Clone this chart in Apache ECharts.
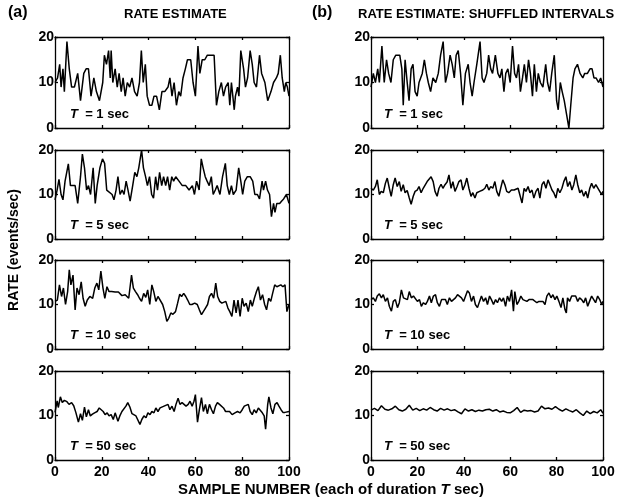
<!DOCTYPE html>
<html>
<head>
<meta charset="utf-8">
<script src="https://cdn.jsdelivr.net/npm/echarts@6/dist/echarts.min.js"></script>
<style>
  html, body { margin: 0; background: #fff; }
  #chart { width: 624px; height: 498px; }
</style>
</head>
<body>
<div id="chart"></div>
<script>
// (a) rate estimate, [sample number, events/sec]
const rateT1 = [[0,10],[1.1,11],[2,14],[2.6,9],[3.4,13],[4,8],[5.1,19],[6.1,13],[7.1,9],[8.3,9],[9.7,12],[10.9,6],[12.3,12],[13.3,13],[14.3,13],[15.4,7],[16.6,11],[17.7,8],[19,6],[20.4,10],[21.1,16],[22,14],[22.9,17],[23.6,11],[24,17],[24.7,10],[25.7,13],[26.6,9],[27.4,12],[28.3,8],[29.1,11],[30,7],[30.9,10],[31.9,9],[32.9,11],[34,8],[35.1,7],[36.1,10],[36.9,17],[37.7,10],[38.6,14],[39.4,7],[40.4,5],[41.4,5],[42.3,7],[43.4,7],[44.6,4],[45.7,8],[46.9,8],[48.3,9],[49.1,11],[50,7],[50.9,10],[51.9,5],[52.9,8],[53.7,7],[54.7,11],[55.7,13],[56.6,15],[58,15],[59,10],[60,7],[61.1,18],[61.9,12],[62.9,15],[64,15],[65.1,16],[66.9,16],[68,16],[69,5],[70,8],[71.1,10],[72,7],[72.9,9],[74,10],[74.7,5],[75.4,10],[76.6,4],[77.1,7],[78,9],[78.6,7],[79.4,17],[80.6,13],[81.4,9],[82.3,11],[83.4,17],[84.3,14],[85.1,10],[86.1,9],[87.4,16],[88.3,12],[89.7,10],[90.9,6],[92.3,8],[93.4,10],[94.6,11],[95.4,12],[96.3,16],[97.1,11],[98,8],[98.6,10],[99.3,9],[100,7]];
const rateT5 = [[0,8.8],[0.9,11],[1.7,13.4],[2.6,10],[3.4,8.8],[4.3,13],[5.7,16.9],[6.6,12],[7.4,12],[8.6,12],[9.7,8],[10.9,14],[11.7,19.1],[12.6,16],[13.5,11],[14.3,12],[15.2,10],[16.3,16],[17.2,8],[18,12],[19.2,16],[20.3,18],[21.2,17],[22.1,11],[22.9,11],[24.4,10],[25.2,8.8],[26.1,11],[26.9,14],[27.8,10],[28.7,11],[29.5,10],[30.4,13],[31.2,11],[32.1,8.5],[33.2,12],[34.1,15],[35,14],[35.8,16],[37,20],[37.8,16],[38.7,14],[39.5,12],[40.4,14],[41.3,10],[42.1,9.2],[43,14],[43.8,11],[44.7,15],[45.6,12],[46.4,14],[47.3,12],[48.1,14],[49,11],[49.9,14],[50.7,13],[51.6,14],[53,13],[54.4,12],[55.9,12],[57.3,11],[58.7,12],[59.6,10],[60.5,13],[61.6,11],[62.5,18],[63.3,16],[64.2,14],[65,13],[65.9,12],[66.8,14],[67.6,10],[68.5,11],[69.3,12],[70.5,10],[71.6,14],[72.8,17],[73.6,12],[74.5,10],[75.4,12],[76.2,10],[77.4,11],[78.5,16],[79.4,13],[80.2,10],[81.1,13],[82.2,14],[83.4,14],[84.5,13],[85.4,10],[86.5,10],[87.4,9],[88.5,13],[89.1,11],[90,13],[90.8,11],[91.7,10],[92.5,5],[93.4,8],[94,6],[94.8,8],[96,8],[96.8,8.5],[97.7,9],[98.9,10],[100,8]];
const rateT10 = [[0,10.7],[1,11],[1.9,14.4],[2.8,11.8],[3.6,13.7],[4.5,10],[5.4,12.9],[6.1,17.8],[6.8,14.4],[7.7,16.6],[8.6,8.8],[9.4,13.7],[10.3,12.2],[11.2,15.1],[12,11.4],[12.9,9.6],[13.8,11],[14.9,11.8],[16.1,11.4],[17,13.7],[17.9,14.8],[18.7,13.3],[19.6,17.5],[20.5,13.7],[21.3,11.4],[22.2,14],[23.1,12.9],[24.2,12.9],[25.7,12.8],[27.1,12.8],[28.6,12],[30,12.2],[31.5,11.4],[32.7,16.6],[33.5,13.7],[34.4,12.9],[35.3,12.2],[36.1,11.4],[37,10.7],[37.9,12.5],[38.8,11.6],[39.6,13.3],[40.5,10],[41.4,14.4],[42.2,12.9],[43.1,10.7],[44,11.8],[44.8,11.4],[46,10],[46.9,8.4],[47.8,6.2],[48.6,6.9],[49.5,8.1],[50.4,7.8],[51.5,8.4],[52.4,10.3],[53.3,12.3],[54.1,11.8],[55,12.5],[55.9,11.8],[56.7,11],[57.6,10],[58.5,10],[59.7,10.3],[60.8,10],[61.7,8.8],[62.6,7.7],[63.4,8.1],[64.3,9.2],[65.2,10],[66,11.8],[66.9,12.5],[67.8,11.4],[68.7,14.8],[69.5,11.8],[70.4,10.7],[71.3,10.3],[72.1,10],[73,10.7],[73.9,9.2],[74.7,8.4],[75.6,7.3],[76.5,11],[77.4,8.1],[78.2,11],[79.1,7.3],[80,11.4],[80.8,9.6],[81.7,10.3],[82.6,8.4],[83.5,11],[84.3,9.6],[85.2,11.4],[86.1,12.9],[86.9,14],[87.8,11],[88.7,12.2],[89.6,10],[90.4,8.8],[91.3,11.4],[92.2,10.7],[93,12.5],[93.9,14.4],[94.8,14],[95.6,14],[96.5,14.4],[97.4,14],[98.3,14.4],[99.1,8.4],[100,10]];
const rateT50 = [[0,10.7],[0.9,13.3],[1.4,11.8],[2.3,14.2],[3.1,12.9],[4,13.4],[5.1,13.1],[6,12.5],[7.1,12.9],[8,12.2],[8.9,10.7],[10,8.5],[10.9,10.4],[11.7,8.9],[12.6,11.9],[13.4,9.7],[14.3,11.3],[15.1,9.9],[16,10.3],[16.9,10.6],[18,10.9],[18.9,11.7],[19.7,12.1],[20.6,10.9],[21.4,10.2],[22.3,10.6],[23.1,9.9],[24,10.2],[24.9,9.1],[25.7,10.6],[26.9,8.7],[27.7,9.9],[28.6,10.9],[29.4,11.3],[30.3,12.1],[31.1,12.9],[32,11.9],[32.9,10.4],[33.7,10.6],[34.6,9.9],[35.4,10.2],[36.3,8],[37.1,9.1],[38,9.9],[38.9,9.5],[39.7,10.6],[40.6,10.2],[41.4,10.9],[42.3,10.6],[43.1,11.7],[44,10.9],[44.9,11.7],[45.7,11.3],[46.6,12.1],[47.4,11.7],[48.3,12.5],[49.1,11.3],[50,12.1],[50.9,10.9],[51.7,12.5],[52.6,13.9],[53.4,12.5],[54.3,12.9],[55.1,13.2],[56,12.1],[56.9,12.5],[57.7,13.2],[58.6,12.1],[59.4,13.2],[60,14.7],[60.9,8.5],[61.7,11.3],[62.6,14],[63.4,10.9],[64.3,12.5],[65.1,10.4],[66,12.5],[66.9,11.3],[67.7,10.4],[68.6,12.1],[69.4,12.9],[70.3,12.5],[71.1,12.1],[72,11.7],[72.9,10.9],[73.7,11.3],[74.6,10.9],[75.7,10.2],[76.9,10.6],[78,10.9],[79.1,10.6],[80,11.3],[80.9,12.1],[81.7,11.7],[82.6,12.5],[83.4,10.9],[84.3,10.2],[85.1,11.3],[86,10.6],[86.9,11.7],[87.7,12.1],[88.6,10.6],[89.4,9.9],[90,6.9],[90.9,12.5],[91.4,14.2],[92.3,11.7],[93.1,10.4],[94,12.5],[94.9,12.9],[95.7,12.1],[96.6,11.3],[97.4,10.7],[98.3,10.7],[99.1,10.6],[100,10.9]];

// (b) rate estimate from shuffled intervals
const shufT1 = [[0,9],[1,12],[1.9,10],[2.9,13],[3.6,10],[4.7,18],[5.7,10],[6.7,15],[7.6,12],[8.6,10],[9.6,15],[10.7,16],[12.4,16],[13.3,13],[13.9,5],[14.7,15],[15.6,10],[16.4,6],[17.3,13],[18.1,14],[19,8],[19.9,7],[20.7,10],[22.1,12],[23,15],[23.9,12],[24.7,10],[25.7,8],[26.7,11],[27.9,10],[29,12],[30,16],[31.1,19],[32.1,10],[33,12],[34.1,16],[35,14],[35.9,11],[36.7,16],[37.6,17],[38.6,12],[39.6,5],[40.7,12],[41.9,14],[42.7,10],[43.6,7],[44.4,10],[45.6,14],[47,19],[47.9,11],[48.7,10],[49.9,12],[50.7,16],[51.6,13],[52.4,12],[53.6,16],[54.7,12],[55.6,11],[56.4,13],[57.3,8],[58.1,12],[59,13],[60,10],[61,18],[61.9,12],[62.7,11],[63.6,14],[64.4,8],[65.3,11],[66.1,14],[67,10],[67.9,15],[68.7,12],[69.6,7],[70.4,14],[71.3,8],[72.1,12],[73,10],[74.1,9],[75.3,14],[76.1,10],[77,8],[77.9,12],[79,16],[80,6],[80.7,4],[81.6,10],[82.4,8],[83.3,6],[84.3,3],[85.3,0],[86.1,5],[87.1,11],[87.9,13],[89,14],[90.1,12],[91.3,11],[92.1,12],[93.3,12],[94.4,13],[95.3,13],[96.1,11],[97,11],[98.1,10],[99,11],[100,9]];
const shufT5 = [[0,11.4],[1,11],[1.9,11.8],[2.7,13.3],[3.6,10],[4.4,10.7],[5.3,10.4],[6.2,12.5],[7,13.7],[7.9,11.4],[8.7,9.6],[9.6,12.2],[10.4,13.7],[11.3,11.8],[12.2,12.9],[13,10.7],[13.9,12.2],[14.7,10.4],[15.6,10.9],[16.5,9.2],[17.3,7.8],[18.2,9.6],[19,10.7],[19.9,11],[20.7,11.8],[21.6,10.4],[22.5,11.4],[23.3,11.8],[24.2,12.9],[25,13.3],[25.9,14],[26.8,12.9],[27.6,10.7],[28.5,9.6],[29.3,11.4],[30.2,12.3],[31,11.4],[31.9,12.2],[32.8,12.8],[33.6,14.4],[34.5,11.4],[35.3,12.9],[36.2,10.7],[37.1,11.8],[37.9,12.9],[38.8,13.3],[39.6,11],[40.5,12.2],[41.3,13.7],[42.2,11.4],[43.1,9.6],[43.9,10.4],[44.8,9.2],[45.6,10.4],[46.8,10.7],[48.2,11],[49.1,11.4],[49.9,12.3],[50.8,11],[51.6,11.8],[52.5,11.4],[53.4,12.9],[54.2,10.7],[55.1,9.6],[55.9,11.4],[56.8,13.3],[57.7,12.2],[58.5,10.7],[59.4,10.4],[60.5,11],[61.7,11],[62.5,11.4],[63.4,11.4],[64.2,11.8],[65.1,8.1],[66,11.4],[66.8,10.7],[67.7,11.8],[68.5,10.4],[69.4,11],[70.2,9.2],[71.1,10.7],[72,11.4],[72.8,9.2],[73.7,12.2],[74.5,12.9],[75.4,11.4],[76.3,13.3],[77.1,13.7],[78,11],[78.8,10.4],[79.7,9.2],[80.5,11.4],[81.4,10.4],[82.3,11.4],[83.1,12.9],[84,14],[84.8,11.8],[85.7,12.9],[86.6,11],[87.4,12.2],[88.3,14.4],[89.1,12.2],[90,10.4],[90.8,11],[91.7,9.6],[92.6,10.7],[93.4,9.2],[94.3,11.4],[95.1,12.5],[96,11.4],[96.9,12.2],[97.7,11.8],[98.6,10.7],[99.4,10],[100,10.7]];
const shufT10 = [[0,11.1],[1,11.5],[1.9,10.7],[2.7,11.9],[3.6,12.4],[4.5,11.5],[5.3,12.2],[6.2,10.7],[7.1,11.5],[7.9,9.6],[8.8,8.5],[9.6,10.7],[10.5,11.1],[11.4,9.3],[12.2,10.4],[13.1,13.3],[14,11.5],[14.8,11.9],[15.7,11.1],[16.5,12.9],[17.4,11.5],[18.3,11.9],[19.1,11.5],[20,10.7],[20.9,11.1],[21.7,9.6],[22.6,10.4],[23.5,10],[24.3,10.7],[25.2,11.9],[26,10.4],[26.9,11.9],[27.8,12.2],[28.6,10.4],[29.5,9.6],[30.4,11.1],[31.2,11.5],[32.1,11.1],[32.9,10],[33.8,11.5],[34.7,10.7],[35.5,10.4],[36.4,11.5],[37.3,12.2],[38.1,12.6],[39,11.5],[39.9,10.7],[40.7,11.1],[41.6,13.1],[42.4,12.6],[43.3,10.7],[44.2,11.9],[45,10],[45.9,9.3],[46.8,10.7],[47.6,11.9],[48.5,10.7],[49.4,11.5],[50.2,10],[51.1,11.9],[51.9,11.1],[52.8,10],[53.7,11.1],[54.5,10.4],[55.4,11.5],[56.3,10.7],[57.1,11.5],[58,9.6],[58.8,11.9],[59.7,10.7],[60.6,13.3],[61.4,8.5],[62,12.9],[62.9,10],[63.7,10.7],[64.6,11.9],[65.5,11.1],[66.3,11.5],[67.2,10.7],[68.1,11.1],[68.9,10.7],[69.8,11.1],[70.6,10.7],[71.5,10.4],[72.4,10.7],[73.2,10.4],[74.1,10.7],[75,10],[75.8,11.9],[76.7,12.6],[77.6,11.5],[78.4,12.2],[79.3,11.1],[80.1,11.9],[81,10.7],[81.9,9.3],[82.7,11.5],[83.6,8.9],[84.2,8.1],[84.7,11.5],[85.6,10.7],[86.5,11.9],[87.3,11.5],[88.2,11.9],[89.1,10.7],[89.9,11.5],[90.8,11.1],[91.7,10.4],[92.5,11.5],[93.4,9.6],[94.2,10.7],[95.1,11.9],[96,11.1],[96.8,10.4],[97.7,11.9],[98.6,11.1],[99.4,10],[100,10.7]];
const shufT50 = [[0,11.2],[1.5,11.6],[3,11.1],[4.5,12.2],[6,11.4],[7.5,11.2],[9,11.5],[10.5,12.1],[12,11.3],[13.5,11],[15,11.4],[16.5,12.3],[18,11.2],[19.5,11.6],[21,11.1],[22.5,11.5],[24,11.2],[25.5,11.8],[27,11.3],[28.5,11],[30,11.6],[31.5,11.2],[33,11.5],[34.5,11.1],[36,11.3],[37.5,10.8],[39,10.4],[40.5,11.5],[42,11],[43.5,11.3],[45,10.9],[46.5,11.2],[48,11],[49.5,11.3],[51,11.4],[52.5,11],[54,11.3],[55.5,10.8],[57,11],[58.5,10.7],[60,10.6],[61.5,11.1],[63,11.8],[64.5,10.7],[66,11.2],[67.5,11],[69,11.1],[70.5,10.8],[72,11],[73.5,12.1],[75,11.5],[76.5,11.7],[78,11.4],[79.5,12],[81,11.4],[82.5,11],[84,11.5],[85.5,11.1],[87,10.8],[88.5,11.3],[90,10.6],[91.5,10],[93,11],[94.5,10.4],[96,10.9],[97.5,10.6],[99,11.3],[100,10.5]];

const windowSecs = ['1', '5', '10', '50'];
const rateSeries = [rateT1, rateT5, rateT10, rateT50];
const shufSeries = [shufT1, shufT5, shufT10, shufT50];

const FONT = '"Liberation Sans", Arial, Helvetica, sans-serif';

// 版面：两列四行
const cols = [{ left: 55, width: 234 }, { left: 371, width: 232 }];
const rows = [{ top: 37, height: 91 }, { top: 150, height: 89 }, { top: 260, height: 89 }, { top: 371, height: 89 }];

const grids = [], xAxes = [], yAxes = [], series = [], texts = [];
const lineStyle = { color: '#000', width: 1.3 };

cols.forEach((c, ci) => {
  rows.forEach((r, ri) => {
    const k = grids.length;
    grids.push({ left: c.left, top: r.top, width: c.width, height: r.height });
    const isBottom = ri === rows.length - 1;
    // bottom and top x axes (top one only for the box and ticks)
    ['bottom', 'top'].forEach(pos => {
      xAxes.push({
        gridIndex: k, type: 'value', position: pos, min: 0, max: 100, interval: 20,
        axisLine: { show: true, onZero: false, lineStyle: lineStyle },
        axisTick: { show: true, inside: true, length: 3, lineStyle: lineStyle },
        axisLabel: {
          show: pos === 'bottom' && isBottom, margin: 5,
          color: '#000', fontFamily: FONT, fontSize: 14, fontWeight: 'bold'
        },
        splitLine: { show: false }
      });
    });
    ['left', 'right'].forEach(pos => {
      yAxes.push({
        gridIndex: k, type: 'value', position: pos, min: 0, max: 20, interval: 10,
        axisLine: { show: true, onZero: false, lineStyle: lineStyle },
        axisTick: { show: true, inside: true, length: 3, lineStyle: lineStyle },
        axisLabel: {
          show: pos === 'left', margin: 1,
          color: '#000', fontFamily: FONT, fontSize: 14, fontWeight: 'bold'
        },
        splitLine: { show: false }
      });
    });
    series.push({
      type: 'line',
      data: (ci === 0 ? rateSeries : shufSeries)[ri],
      xAxisIndex: 2 * k, yAxisIndex: 2 * k,
      showSymbol: false, symbol: 'none', smooth: false,
      lineStyle: { color: '#000', width: 1.5 },
      animation: false
    });
    texts.push({
      type: 'text', left: c.left + (ci === 0 ? 15 : 13), top: r.top + r.height - 20,
      style: {
        text: '{i|T}  = ' + windowSecs[ri] + ' sec',
        fill: '#000', fontFamily: FONT, fontSize: 13, fontWeight: 'bold',
        rich: { i: { fontStyle: 'italic', fontFamily: FONT, fontSize: 13, fontWeight: 'bold', fill: '#000' } }
      }
    });
  });
});

const baseText = { fill: '#000', fontFamily: FONT, fontWeight: 'bold' };

texts.push(
  { type: 'text', left: 8, top: 5, style: Object.assign({ text: '(a)', fontSize: 16 }, baseText) },
  { type: 'text', left: 124, top: 8, style: Object.assign({ text: 'RATE ESTIMATE', fontSize: 13 }, baseText) },
  { type: 'text', left: 312, top: 5, style: Object.assign({ text: '(b)', fontSize: 16 }, baseText) },
  { type: 'text', left: 358, top: 8, style: Object.assign({ text: 'RATE ESTIMATE: SHUFFLED INTERVALS', fontSize: 13 }, baseText) },
  {
    type: 'text', x: 14, y: 250, rotation: Math.PI / 2,
    style: Object.assign({ text: 'RATE (events/sec)', fontSize: 14, align: 'center', verticalAlign: 'middle' }, baseText)
  },
  {
    type: 'text', x: 331, y: 490,
    style: Object.assign({
      text: 'SAMPLE NUMBER (each of duration {i|T} sec)', fontSize: 15, align: 'center', verticalAlign: 'middle',
      rich: { i: { fontStyle: 'italic', fontWeight: 'bold', fontFamily: FONT, fontSize: 15, fill: '#000' } }
    }, baseText)
  }
);

const myChart = echarts.init(document.getElementById('chart'), null, { renderer: 'canvas' });
myChart.setOption({
  animation: false,
  backgroundColor: '#fff',
  grid: grids,
  xAxis: xAxes,
  yAxis: yAxes,
  series: series,
  graphic: texts
});
</script>
</body>
</html>
